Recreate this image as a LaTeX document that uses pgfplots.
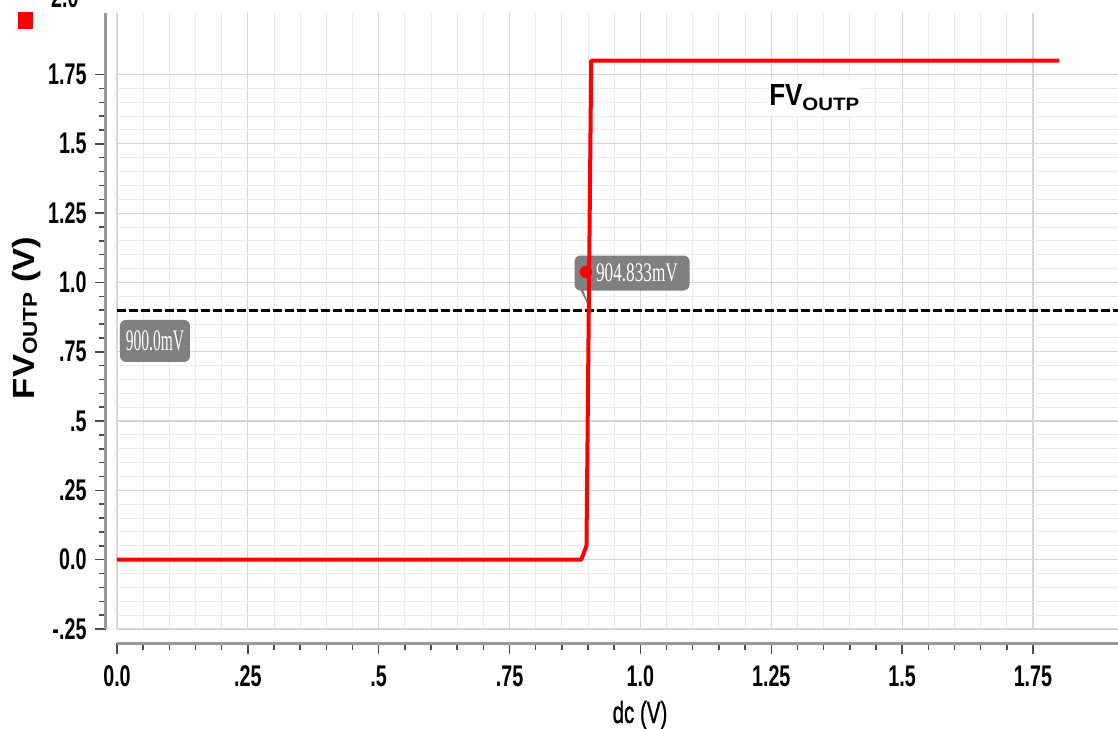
\documentclass[border=0pt]{standalone}
\usepackage{pgfplots}
\pgfplotsset{compat=1.18}
\usepackage{fontspec}
\setmainfont{Liberation Sans}
\newfontfamily\tickf{Liberation Sans}[FakeStretch=0.66]
\newfontfamily\lblf{Liberation Sans}[FakeBold=1.2]
\newfontfamily\serifnum{Liberation Serif}
\definecolor{gridmaj}{gray}{0.84}
\definecolor{gridmin}{gray}{0.92}
\definecolor{boxgray}{RGB}{128,128,128}
\begin{document}
\begin{tikzpicture}
\begin{axis}[
  scale only axis, width=1001bp, height=616bp,
  xmin=0, xmax=1.9125, ymin=-0.25, ymax=1.972,
  axis x line*=bottom, axis y line*=left,
  axis x line shift=14bp, axis y line shift=11bp,
  x axis line style={-, draw=black!40, line width=3bp},
  y axis line style={-, draw=black!40, line width=3bp},
  xtick={0,0.25,0.5,0.75,1,1.25,1.5,1.75},
  xticklabels={0.0,.25,.5,.75,1.0,1.25,1.5,1.75},
  ytick={-0.25,0,0.25,0.5,0.75,1,1.25,1.5,1.75},
  yticklabels={-.25,0.0,.25,.5,.75,1.0,1.25,1.5,1.75},
  minor tick num=4,
  grid=both,
  major grid style={gridmaj, line width=1.2bp},
  minor grid style={gridmin, line width=1bp},
  tick align=outside,
  major tick length=11bp, minor tick length=7bp,
  every tick/.style={black!70, line width=1.5bp},
  ticklabel style={font=\tickf\bfseries\fontsize{30}{30}\selectfont},
  xticklabel style={yshift=-8bp},
  yticklabel style={xshift=-5bp},
  clip mode=individual,
]
\coordinate (pSW) at (rel axis cs:0,0);
\coordinate (pNE) at (rel axis cs:1,1);
% partly visible top tick label
\node[anchor=east, font=\tickf\bfseries\fontsize{30}{30}\selectfont, xshift=-35bp, yshift=8bp] at (axis cs:0,2.0) {2.0};
% legend swatch
\node[fill=red, minimum width=15bp, minimum height=17bp, inner sep=0pt, anchor=north west, xshift=-99bp, yshift=1bp] at (rel axis cs:0,1) {};
% labels
\node[xshift=-90bp, rotate=90, font=\bfseries\fontsize{30.7}{31}\selectfont] at (rel axis cs:0,0.505)
  {\scalebox{1.13}[1]{FV\raisebox{-2bp}{\fontsize{20}{20}\selectfont OUTP} (V)}};
\node[anchor=base, font=\lblf\fontsize{30.7}{31}\selectfont, yshift=-94bp] at (rel axis cs:0.5225,0) {\scalebox{0.67}[1]{dc (V)}};
% trace annotation
\node[anchor=base west, fill=white, inner xsep=2bp, inner ysep=6bp] at (axis cs:1.242,1.640)
  {\scalebox{0.85}[1]{\bfseries\fontsize{30.7}{31}\selectfont FV}\raisebox{-5bp}{\scalebox{1.14}[1]{\bfseries\fontsize{18}{18}\selectfont OUTP}}};
% marker boxes
\node[fill=boxgray, rounded corners=6bp, minimum width=70bp, minimum height=42bp, inner sep=0pt] at (axis cs:0.0726,0.789) {};
\node[text=white, font=\serifnum\fontsize{30}{30}\selectfont] at (axis cs:0.0726,0.789) {\scalebox{0.52}[1]{900.0mV}};
\fill[boxgray] (axis cs:0.875,1.009) -- (axis cs:0.888,0.987) -- (axis cs:0.904,0.904) -- cycle;
\node[fill=boxgray, rounded corners=6bp, minimum width=115bp, minimum height=35bp, inner sep=0pt] at (axis cs:0.984,1.034) {};
\node[text=white, font=\serifnum\fontsize{27}{27}\selectfont] at (axis cs:0.9935,1.034) {\scalebox{0.64}[1]{904.833mV}};
% data
\addplot[black, line width=3bp, dash pattern=on 9bp off 3bp] coordinates {(0,0.9) (1.9125,0.9)};
\addplot[red, line width=4bp, line join=round] coordinates {(0,0) (0.887,0) (0.897,0.05) (0.906,1.8) (1.8,1.8)};
\addplot[only marks, mark=*, mark size=6bp, red] coordinates {(0.896,1.038)};
\end{axis}
\pgfresetboundingbox
\path[use as bounding box] ([xshift=-117bp,yshift=-100bp]pSW) rectangle ([yshift=13bp]pNE);
\end{tikzpicture}
\end{document}
